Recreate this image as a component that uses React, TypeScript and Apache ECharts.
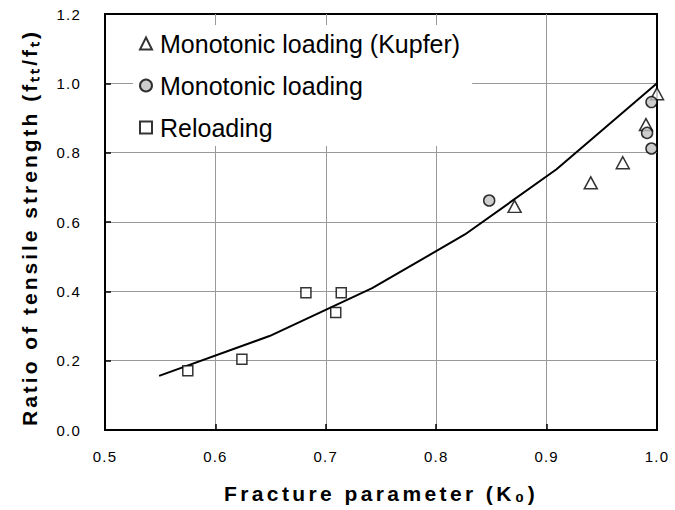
import React, { useEffect, useRef } from "react";
import * as echarts from "echarts";

const xTickMin = 0.5;
const xTickMax = 1.0;
const xTickStep = 0.1;
const yTickMin = 0.0;
const yTickMax = 1.2;
const yTickStep = 0.2;

const seriesNames = ["Monotonic loading (Kupfer)", "Monotonic loading", "Reloading"];

const kupferX = [0.871, 0.94, 0.969, 0.99, 1.0];
const kupferY = [0.645, 0.713, 0.771, 0.881, 0.97];

const monoX = [0.848, 0.991, 0.995, 0.995];
const monoY = [0.662, 0.857, 0.946, 0.812];

const reloadX = [0.575, 0.624, 0.682, 0.709, 0.714];
const reloadY = [0.171, 0.204, 0.396, 0.339, 0.396];

const curveX = [0.549, 0.649, 0.742, 0.826, 0.909, 1.0];
const curveY = [0.156, 0.271, 0.409, 0.564, 0.752, 1.0];

const xTitle = "Fracture parameter (K\u2080)";
const yTitle = "Ratio of tensile strength (f\u209C\u209C/f\u209C)";

const FONT = '"Liberation Sans", Arial, Helvetica, sans-serif';

const zip = (xs: number[], ys: number[]) => xs.map((x, i) => [x, ys[i]]);

const applySpacing = (root: HTMLElement | null) => {
  if (!root) return;
  root.querySelectorAll("text").forEach((t) => {
    const s = (t.textContent || "").trim();
    if (s === xTitle) t.setAttribute("letter-spacing", "3.4");
    else if (s === yTitle) t.setAttribute("letter-spacing", "3.0");
    else if (/^\d\.\d$/.test(s)) t.setAttribute("letter-spacing", "1.2");
  });
};

export default function App() {
  const ref = useRef<HTMLDivElement>(null);

  useEffect(() => {
    if (!ref.current) return;
    const chart = echarts.init(ref.current, null, { renderer: "svg" });
    const option: any = {
      animation: false,
      backgroundColor: "#fff",
      grid: {
        left: 105,
        right: 18,
        top: 14,
        bottom: 80,
        show: true,
        borderColor: "#000",
        borderWidth: 2,
        backgroundColor: "transparent",
      },
      legend: {
        orient: "vertical",
        left: 133,
        top: 25,
        padding: [6, 12, 6, 6],
        itemGap: 17,
        itemWidth: 12,
        itemHeight: 12,
        backgroundColor: "#fff",
        selectedMode: false,
        textStyle: { fontSize: 25, color: "#000", fontFamily: FONT, padding: [0, 0, 0, 3] },
        data: seriesNames,
      },
      xAxis: {
        type: "value",
        min: xTickMin,
        max: xTickMax,
        interval: xTickStep,
        axisLine: { show: true, lineStyle: { color: "#000", width: 2 } },
        axisTick: { show: true, inside: true, length: 6, lineStyle: { color: "#000", width: 1.5 } },
        axisLabel: {
          margin: 19,
          fontSize: 15,
          color: "#000",
          fontFamily: FONT,
          formatter: (v: number) => v.toFixed(1),
        },
        splitLine: {
          show: true,
          showMinLine: false,
          showMaxLine: false,
          lineStyle: { color: "#999", width: 1 },
        },
        name: xTitle,
        nameLocation: "middle",
        nameGap: 53,
        nameTextStyle: { fontSize: 21, fontWeight: "bold", color: "#000", fontFamily: FONT },
      },
      yAxis: {
        type: "value",
        min: yTickMin,
        max: yTickMax,
        interval: yTickStep,
        axisLine: { show: true, lineStyle: { color: "#000", width: 2 } },
        axisTick: { show: true, inside: true, length: 6, lineStyle: { color: "#000", width: 1.5 } },
        axisLabel: {
          margin: 24,
          fontSize: 15,
          color: "#000",
          fontFamily: FONT,
          formatter: (v: number) => v.toFixed(1),
        },
        splitLine: {
          show: true,
          showMinLine: false,
          showMaxLine: false,
          lineStyle: { color: "#999", width: 1 },
        },
        name: yTitle,
        nameLocation: "middle",
        nameGap: 65,
        nameTextStyle: {
          fontSize: 21,
          fontWeight: "bold",
          color: "#000",
          fontFamily: FONT,
          padding: [0, 11, 0, 0],
        },
      },
      series: [
        {
          type: "line",
          name: "curve",
          data: zip(curveX, curveY),
          symbol: "none",
          silent: true,
          lineStyle: { color: "#000", width: 2 },
          itemStyle: { color: "#000" },
          z: 2,
        },
        {
          type: "scatter",
          name: seriesNames[0],
          data: zip(kupferX, kupferY),
          symbol: "triangle",
          symbolSize: [13, 12],
          itemStyle: { color: "#fff", borderColor: "#000", borderWidth: 1.5 },
          z: 3,
        },
        {
          type: "scatter",
          name: seriesNames[1],
          data: zip(monoX, monoY),
          symbol: "circle",
          symbolSize: 11,
          itemStyle: { color: "#c0c0c0", borderColor: "#000", borderWidth: 1.5 },
          z: 3,
        },
        {
          type: "scatter",
          name: seriesNames[2],
          data: zip(reloadX, reloadY),
          symbol: "rect",
          symbolSize: 10,
          itemStyle: { color: "#fff", borderColor: "#000", borderWidth: 1.5 },
          z: 3,
        },
      ],
    };
    chart.setOption(option);
    const el = ref.current;
    applySpacing(el);
    const onFinished = () => applySpacing(el);
    chart.on("finished", onFinished);
    return () => {
      chart.off("finished", onFinished);
      chart.dispose();
    };
  }, []);

  return (
    <div
      ref={ref}
      style={{ position: "absolute", left: 0, top: 0, width: 675, height: 510, background: "#fff" }}
    />
  );
}
